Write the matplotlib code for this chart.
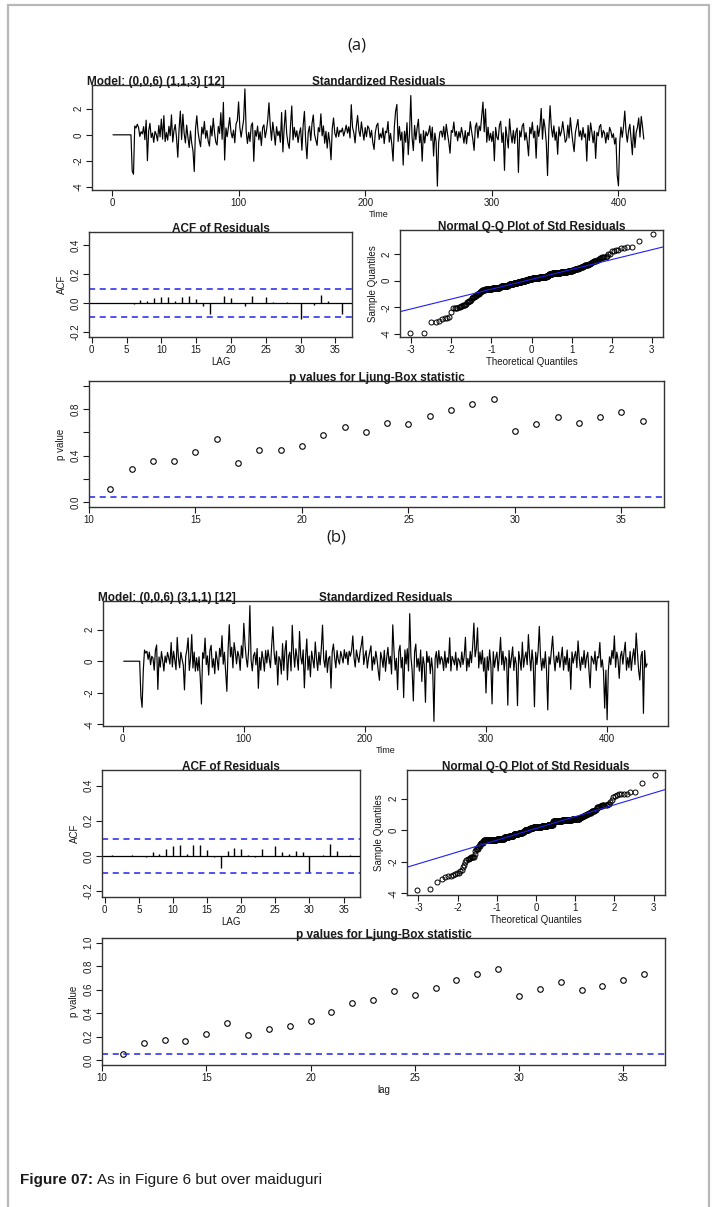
import numpy as np
import matplotlib
matplotlib.use("Agg")
import matplotlib.pyplot as plt
from matplotlib import patches
from statistics import NormalDist

W, H = 715, 1207
plt.rcParams['font.family'] = ['Liberation Sans', 'DejaVu Sans']
plt.rcParams['axes.unicode_minus'] = False

# ---- (a) Model: (0,0,6) (1,1,3) [12] ----
model_a = "Model: (0,0,6) (1,1,3) [12]"
resid_a = [
    0, 0, 0, 0, 0, 0, 0, 0, 0, 0, 0, 0, 0, 0, 0, -2.78, -3.02, 0.68, 0.52, 0.81,
    0.57, -0.12, 0.24, 0.08, 0.63, -0.37, 1.12, -1.98, 0.31, 0.88, -0.21, 0.14, -0.58, 0.27, 0.03, -0.47, 0.72, -0.16, 1.21, -0.33,
    1.47, -0.52, 0.18, -0.41, 0.66, -0.07, 1.53, -0.55, 0.35, 0.79, -0.24, -1.72, 0.44, 1.82, -0.36, 1.58, 0.12, -0.62, 0.74, -0.19,
    -0.97, 0.29, -0.64, -1.23, -2.81, 0.48, 1.46, 0.22, -0.43, -0.91, 0.59, 0.06, 1.03, -0.26, 0.33, -0.49, -0.86, 0.69, -0.09, 1.27,
    0.17, -0.56, -0.78, 0.64, 0.11, 1.69, -0.34, 2.48, -1.93, 0.53, -0.14, 0.61, 1.32, 0.21, -0.23, 0.36, -0.61, 0.83, 1.08, 2.52,
    0.58, -0.18, 0.47, 1.17, 3.52, 0.26, -0.66, 0.19, -0.51, 0.71, 0.92, -2.03, 0.34, -0.11, 0.67, -0.38, 0.23, -0.82, 0.56, 0.77,
    -0.22, 0.32, 1.13, 2.46, 0.73, -0.42, 0.97, 0.16, -0.79, 0.62, -0.06, 0.28, -0.57, 1.71, -1.31, 0.51, 1.88, 0.09, -0.63, -1.04,
    0.69, 2.21, -0.39, 0.57, -0.17, 0.31, -0.59, 0.13, 0.54, -1.18, 0.73, 1.79, -0.53, -1.83, 0.19, 0.66, -0.44, 0.87, 1.52, 0.02,
    -0.38, -0.81, 0.55, 0.24, 1.61, -0.08, 0.68, -0.64, 0.27, -1.02, 0.18, -0.54, -1.91, 0.49, 1.29, 0.12, -0.19, 0.58, -0.13, 0.34,
    0.21, 0.52, -0.09, 0.29, 0.74, 0.14, 0.61, -0.24, 2.31, 0.57, 0.17, -0.62, 0.66, 1.48, 0.31, -0.12, 0.99, 0.23, -0.41, 0.55,
    -0.14, 0.68, 0.49, -0.21, 0.34, -0.58, -1.12, 0.19, 0.71, 0.89, -0.36, 0.09, -0.23, 0.53, -0.67, 0.28, 0.16, 1.02, -0.56, 0.11,
    -0.72, -2.01, 0.59, 1.81, 2.33, -0.51, 0.64, -0.42, 0.21, -2.32, 0.27, -0.57, 0.93, -1.52, 0.18, 3.01, -0.18, -1.21, 0.72, -0.37,
    0.54, 1.19, -0.61, 0.07, -2.02, 0.32, -0.63, 0.24, -0.08, 0.17, 0.69, -0.44, 0.58, -1.62, 0.13, -0.53, -3.93, -0.59, 0.22, 0.29,
    -0.17, 0.63, -0.39, 0.81, 0.08, -0.55, -1.41, 0.33, 0.19, 0.98, -0.11, 0.27, -0.46, 0.24, -0.22, 0.56, 0.04, -0.64, 0.32, -0.69,
    0.18, -0.07, 1.01, 0.28, -0.35, -1.19, 0.62, 0.91, -0.24, 0.67, 0.33, 1.38, 2.51, 0.23, 1.98, -0.57, 0.59, -0.43, 0.12, -0.52,
    0.26, -1.99, 0.57, -0.19, -0.38, 0.73, 1.04, -0.59, 0.16, -2.72, 0.61, -0.21, -1.01, 1.22, 0.09, -0.62, 0.34, -0.66, 0.21, 0.52,
    -2.88, 0.31, -0.16, 0.68, 0.87, -0.41, 0.18, -0.54, -1.61, 0.57, 0.08, 0.97, -0.23, 0.29, -1.79, 0.71, -0.12, 0.63, 2.02, -0.34,
    1.21, 0.54, -0.61, -3.12, 0.32, 2.23, 0.58, -0.17, 0.69, -0.42, 0.22, -1.49, 0.61, -0.09, 0.27, 1.01, 0.19, -0.57, -0.38, 0.74,
    -0.24, 1.31, 0.28, -0.58, -1.29, 0.17, 0.67, 1.18, -0.12, 0.31, -0.39, 0.56, -0.18, 0.07, -2.01, 0.72, -0.43, 0.91, 0.23, -0.61,
    0.28, -1.81, 0.19, -0.08, 0.62, 0.79, -0.21, 0.33, 0.13, -0.63, 0.18, -0.37, 0.57, 0.29, -0.22, 0.09, -0.71, -0.23, -3.08, -3.91,
    -0.58, 0.59, -0.19, 0.63, 1.82, 0.21, -0.56, 0.32, 0.81, -0.38, -1.52, 0.69, -0.98, 0.18, 0.57, 1.29, -0.17, 1.41, 0.62, -0.31,
]
acf_a = [0.002, -0.003, 0.001, -0.002, 0.002, -0.006, 0.018, 0.014, 0.035, 0.041, 0.041, 0.016,
         0.041, 0.050, 0.028, -0.018, -0.075, 0.002, 0.048, 0.035, 0.003, -0.018, 0.048, 0.002,
         0.041, 0.009, 0.002, 0.007, 0.001, -0.108, 0.002, -0.012, 0.055, 0.016, 0.001, -0.074]
lb_lags = list(range(11, 37))
pval_a = [0.117, 0.286, 0.352, 0.352, 0.434, 0.541, 0.341, 0.445, 0.445, 0.483, 0.576, 0.645, 0.603,
          0.679, 0.669, 0.738, 0.793, 0.841, 0.886, 0.610, 0.669, 0.731, 0.679, 0.731, 0.776, 0.700]

# ---- (b) Model: (0,0,6) (3,1,1) [12] ----
model_b = "Model: (0,0,6) (3,1,1) [12]"
resid_b = [
    0, 0, 0, 0, 0, 0, 0, 0, 0, 0, 0, 0, 0, 0, -2.21, -2.93, -0.58, 0.71, 0.52, 0.63,
    0.12, 0.58, -0.22, 0.31, 0.19, -0.57, 0.69, 1.03, -1.79, 0.27, -0.38, 0.61, 0.04, -0.62, 0.33, -0.09, 0.56, 0.21, -0.18, 1.19,
    -0.36, 0.63, 0.08, -0.54, 1.51, 0.23, -0.41, 0.57, 0.13, -0.24, -1.82, 0.29, 0.72, 1.48, -0.59, 0.17, 1.69, -0.43, 0.58, -0.63,
    0.22, -0.61, 0.28, -1.02, -2.72, 0.54, 0.18, 1.47, -0.21, 0.34, -0.88, 0.68, 1.01, -0.39, 0.16, -0.79, 0.62, 0.11, -0.56, 0.82,
    0.29, 1.62, -0.19, 0.57, -0.64, -1.91, 0.71, 2.32, 0.28, 0.89, -0.42, 1.18, 0.59, -0.17, 0.63, 0.32, -0.58, 0.98, 0.21, 2.41,
    1.08, 0.19, -0.37, 0.73, 3.53, 0.09, -0.61, 0.33, 0.56, -0.23, 0.81, -1.72, 0.24, -0.57, 0.62, 0.12, -0.63, 0.68, -0.11, 0.72,
    0.18, -0.41, 0.99, 2.19, 0.57, -0.21, 0.64, -1.51, 0.29, 0.08, -0.82, 1.12, -0.59, 0.69, 1.31, -1.19, 0.32, 0.58, -0.62, 2.28,
    0.61, -0.38, 0.79, 0.22, -0.57, 1.89, 0.27, -0.18, 0.72, -1.69, 0.21, 1.41, -0.56, 0.33, -0.99, 0.63, 0.08, -0.43, 1.22, 0.19,
    -0.59, 0.57, -0.23, 0.82, 2.29, 0.12, -0.39, 0.67, -0.71, 0.18, 0.31, -1.71, 0.59, 1.09, 0.22, -0.42, 0.68, 0.09, -0.19, 0.62,
    0.28, -0.11, 0.73, 0.18, 0.57, -0.22, 0.64, 0.32, 0.69, 1.61, 0.23, -0.37, 0.71, 0.27, -0.08, 0.59, 1.02, 1.58, -0.21, 0.33,
    0.67, -0.43, 0.21, 0.61, 0.98, -0.58, 0.28, -0.19, 0.63, 0.12, -0.61, -1.21, 0.57, 0.18, -0.39, 0.69, -0.64, 0.23, 0.88, -0.17,
    0.31, -0.81, 2.31, 0.68, -0.57, 0.19, -1.81, 0.62, 1.01, -0.42, 0.24, -2.31, 0.72, -0.18, 0.79, -0.62, 3.02, 0.29, -0.59, -2.52,
    0.58, 1.09, -0.38, 0.17, -0.63, 0.71, -1.29, 0.28, -0.21, -2.61, 0.62, -0.08, 0.32, -0.79, 0.21, -0.57, -3.82, 0.18, 0.61, -0.42,
    0.68, -0.19, 0.29, 0.11, -0.59, 0.63, -0.41, 0.22, -0.12, 1.49, -0.62, 0.31, 0.08, -0.23, 0.57, -0.58, 0.19, 0.03, -0.38, 0.59,
    -0.21, 0.32, 1.52, -0.61, 0.18, -0.37, 0.62, -0.09, 0.99, 2.42, 0.28, 0.81, 2.12, -0.43, 0.58, -0.18, 0.69, -0.63, 0.22, -2.02,
    0.29, -0.57, 0.72, -0.21, -2.71, 0.61, -0.39, 0.19, 0.58, -0.62, 0.31, 1.51, -0.22, 0.63, -0.58, 0.28, 0.12, -2.79, 0.68, -0.41,
    0.21, 0.91, -0.59, 0.27, -0.18, -2.82, 0.62, 0.09, -0.57, 1.21, -0.38, 0.23, 0.59, -0.22, 1.69, 0.31, -0.61, 0.72, -0.11, -2.89,
    0.57, -0.21, 0.63, 2.21, 0.32, -0.58, 0.18, -0.43, 0.61, -0.62, -3.09, 0.28, -0.19, 0.69, 1.59, 0.22, -0.61, 0.33, -0.08, 0.58,
    -0.39, 0.21, 0.89, -0.57, 0.29, -0.22, 0.71, -0.63, 0.18, -1.79, 0.59, -0.12, 0.31, 0.62, -0.41, 1.29, 0.19, -0.58, 0.27, -0.21,
    0.68, -0.42, 0.22, 0.57, -0.61, -1.69, 0.32, 0.11, -0.18, 0.63, -0.59, 0.29, 0.21, 1.19, -0.38, 0.09, -0.62, -2.98, -0.57, -3.72,
    -0.61, 0.28, -0.22, 0.69, 0.18, 1.61, -0.39, 0.58, 0.12, -1.09, 0.31, 0.63, -0.19, 0.59, 1.21, -0.57, 0.23, -0.41, 0.62, -0.58,
    0.29, 0.79, -0.21, 1.79, 0.61, -0.58, -1.19, 0.32, 0.62, -3.31, 0.68, -0.39, -0.18,
]
acf_b = [0.007, 0.001, -0.002, 0.002, -0.001, -0.007, 0.020, 0.009, 0.037, 0.054, 0.060, 0.009,
         0.060, 0.060, 0.034, -0.006, -0.069, 0.026, 0.043, 0.037, 0.002, -0.006, 0.037, 0.001,
         0.054, 0.020, 0.009, 0.026, 0.020, -0.090, 0.001, 0.002, 0.065, 0.026, 0.001, 0.002]
pval_b = [0.050, 0.143, 0.169, 0.160, 0.220, 0.314, 0.211, 0.266, 0.289, 0.331, 0.409, 0.486, 0.514,
          0.591, 0.554, 0.617, 0.683, 0.734, 0.780, 0.546, 0.606, 0.666, 0.597, 0.631, 0.683, 0.734]

fig = plt.figure(figsize=(W / 100, H / 100), dpi=100)
TXT = '#1a1a1a'


def box(l, t, r, b):
    # axes placed by pixel corners of the reference
    return fig.add_axes([l / W, 1 - b / H, (r - l) / W, (b - t) / H])


def r_style(ax, ylabels=None):
    for s in ax.spines.values():
        s.set_linewidth(1.0)
        s.set_color('#333333')
    ax.tick_params(direction='out', length=4, width=0.8, labelsize=7, pad=2, colors=TXT)
    ax.tick_params(axis='y', labelrotation=90)
    if ylabels is not None:
        ax.set_yticklabels(ylabels)
    plt.setp(ax.get_yticklabels(), va='center')


def title(ax, s, x=0.5, ha='center'):
    ax.text(x, 1.0, s, transform=ax.transAxes, ha=ha, va='baseline', fontsize=8.5,
            fontweight='bold', color=TXT)


def rlim(v):
    lo, hi = min(v), max(v)
    p = 0.04 * (hi - lo)
    return lo - p, hi + p


def resid_panel(ax, res, model):
    n = len(res)
    t = np.arange(1, n + 1)
    ax.plot(t, res, color='black', lw=0.85)
    ax.set_xlim(*rlim([1, n]))
    ax.set_ylim(*rlim(res))
    ax.set_xticks([0, 100, 200, 300, 400])
    ax.set_yticks([-4, -2, 0, 2])
    r_style(ax)
    ax.set_xlabel('Time', fontsize=6.5, labelpad=1, color=TXT)
    ax.text(-0.008, 1.0, model, transform=ax.transAxes, ha='left', va='baseline',
            fontsize=8.5, fontweight='bold', color=TXT)
    title(ax, 'Standardized Residuals')


def acf_panel(ax, acf, n):
    lags = np.arange(1, len(acf) + 1)
    ax.vlines(lags, 0, acf, color='black', lw=1.0)
    ax.axhline(0, color='black', lw=0.9)
    bound = 2 / np.sqrt(n)
    for b in (bound, -bound):
        ax.axhline(b, color='#2222ee', lw=1.1, ls=(0, (4, 3)))
    ax.set_xlim(-0.4, 37.4)
    ax.set_ylim(-0.235, 0.49)
    ax.set_xticks(range(0, 36, 5))
    ax.set_yticks([-0.2, 0.0, 0.2, 0.4])
    r_style(ax, ['-0.2', '0.0', '0.2', '0.4'])
    ax.set_xlabel('LAG', fontsize=7, labelpad=1, color=TXT)
    ax.set_ylabel('ACF', fontsize=7, labelpad=3, color=TXT)
    title(ax, 'ACF of Residuals')


def qq_panel(ax, res):
    nd = NormalDist()
    n = len(res)
    probs = (np.arange(1, n + 1) - 0.5) / n
    theo = np.array([nd.inv_cdf(p) for p in probs])
    samp = np.sort(res)
    ax.plot(theo, samp, 'o', mfc='none', mec='black', ms=3.6, mew=0.7)
    q1, q3 = np.percentile(res, [25, 75])
    z1, z3 = nd.inv_cdf(0.25), nd.inv_cdf(0.75)
    slope = (q3 - q1) / (z3 - z1)
    ax.axline((0, q1 - slope * z1), slope=slope, color='#2020ee', lw=0.8)
    ax.set_xlim(*rlim(theo))
    ax.set_ylim(*rlim(samp))
    ax.set_xticks(range(-3, 4))
    ax.set_yticks([-4, -2, 0, 2])
    r_style(ax)
    ax.set_xlabel('Theoretical Quantiles', fontsize=7, labelpad=1, color=TXT)
    ax.set_ylabel('Sample Quantiles', fontsize=7, labelpad=3, color=TXT)
    title(ax, 'Normal Q-Q Plot of Std Residuals')


def lb_panel(ax, pv, ylabels, xlabel=None):
    ax.plot(lb_lags, pv, 'o', mfc='none', mec='black', ms=4, mew=0.8)
    ax.axhline(0.05, color='#2222ee', lw=1.1, ls=(0, (4, 3)))
    ax.set_xlim(10, 37)
    ax.set_ylim(-0.04, 1.04)
    ax.set_xticks(range(10, 36, 5))
    ax.set_yticks([0.0, 0.2, 0.4, 0.6, 0.8, 1.0])
    r_style(ax, ylabels)
    ax.set_ylabel('p value', fontsize=7, labelpad=3, color=TXT)
    if xlabel:
        ax.set_xlabel(xlabel, fontsize=7, labelpad=1, color=TXT)
    title(ax, 'p values for Ljung-Box statistic')


# panel (a)
fig.text(357 / W, 1 - 45 / H, '(a)', ha='center', va='center', fontsize=12, family='Open Sans', color=TXT)
resid_panel(box(92, 85, 665, 190), resid_a, model_a)
acf_panel(box(89, 232, 352, 337), acf_a, len(resid_a))
qq_panel(box(400, 230, 663, 337), resid_a)
lb_panel(box(89, 381, 664, 507), pval_a, ['0.0', '', '0.4', '', '0.8', ''])

# panel (b)
fig.text(336 / W, 1 - 538 / H, '(b)', ha='center', va='center', fontsize=12, family='Open Sans', color=TXT)
resid_panel(box(103, 601, 668, 726), resid_b, model_b)
acf_panel(box(102, 770, 360, 897), acf_b, len(resid_b))
qq_panel(box(407, 770, 665, 895), resid_b)
lb_panel(box(102, 938, 665, 1065), pval_b, ['0.0', '0.2', '0.4', '0.6', '0.8', '1.0'], 'lag')

# caption and page frame
cap = fig.text(20 / W, 1 - 1180 / H, 'Figure 07:', ha='left', va='center', fontsize=11,
               fontweight='bold', color=TXT)
fig.canvas.draw()
ext = cap.get_window_extent()
fig.text((ext.x1 + 4) / W, 1 - 1180 / H, 'As in Figure 6 but over maiduguri', ha='left', va='center',
         fontsize=11, color=TXT)
fig.patches.append(patches.Rectangle((8 / W, -0.02), 701 / W, 1 - 5 / H + 0.02, transform=fig.transFigure,
                                     fill=False, edgecolor='#b8b8b8', lw=1.6))

fig.savefig('out.png', dpi=100)
